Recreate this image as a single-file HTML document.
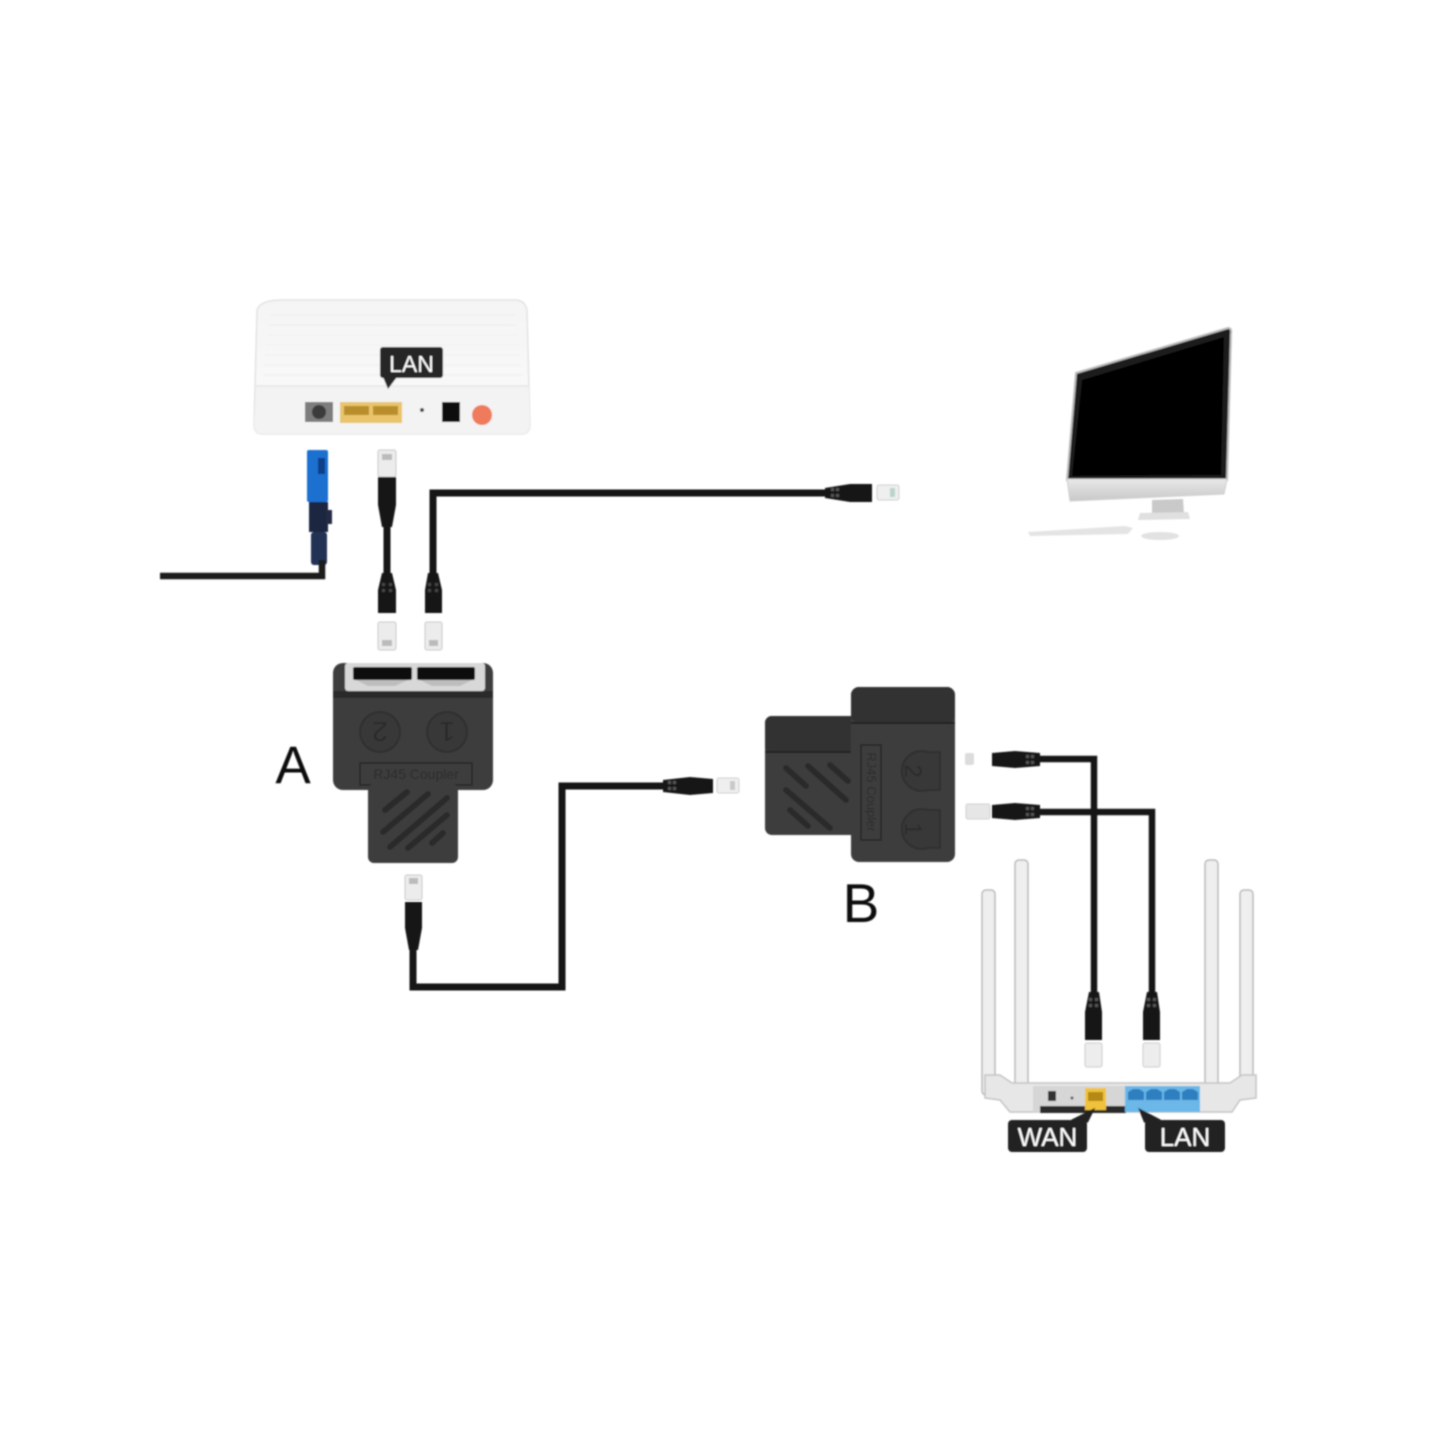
<!DOCTYPE html>
<html><head><meta charset="utf-8"><style>
html,body{margin:0;padding:0;background:#fff;}
svg{display:block;}
text{font-family:"Liberation Sans","DejaVu Sans",sans-serif;}
</style></head><body>
<svg width="1445" height="1445" viewBox="0 0 1445 1445" xmlns="http://www.w3.org/2000/svg">
<defs>
<filter id="sb" x="-5%" y="-5%" width="110%" height="110%"><feGaussianBlur stdDeviation="0.7"/></filter>
<linearGradient id="mtop" x1="0" y1="0" x2="0" y2="1"><stop offset="0" stop-color="#f4f4f4"/><stop offset="1" stop-color="#fbfbfb"/></linearGradient>
<linearGradient id="chin" x1="0" y1="0" x2="0" y2="1"><stop offset="0" stop-color="#e8e8e8"/><stop offset="1" stop-color="#c8c8c8"/></linearGradient>
</defs>
<rect width="1445" height="1445" fill="#fff"/>
<g filter="url(#sb)">

<!-- ===== MODEM ===== -->
<path d="M282,300 L515,300 Q525,300 527,310 L530,425 Q530,434 521,434 L263,434 Q254,434 254,425 L257,310 Q260,300 282,300Z" fill="url(#mtop)" stroke="#e3e3e3" stroke-width="1.5"/>
<path d="M256,386 L529,386 L530,425 Q530,434 521,434 L263,434 Q254,434 254,425Z" fill="#f3f3f3"/>
<line x1="256" y1="386" x2="529" y2="386" stroke="#e6e6e6" stroke-width="1.5"/>
<g stroke="#efefef" stroke-width="1">
<line x1="270" y1="315" x2="515" y2="315"/><line x1="268" y1="325" x2="517" y2="325"/><line x1="267" y1="335" x2="518" y2="335"/>
<line x1="266" y1="345" x2="519" y2="345"/><line x1="265" y1="355" x2="520" y2="355"/><line x1="264" y1="365" x2="521" y2="365"/><line x1="263" y1="375" x2="522" y2="375"/>
</g>
<!-- LAN label -->
<rect x="380" y="347" width="63" height="31" rx="3" fill="#262626"/>
<path d="M383,377 L397,377 L388,389Z" fill="#262626"/>
<text x="411.5" y="372" font-size="23" fill="#fff" text-anchor="middle">LAN</text>
<!-- ports -->
<rect x="305" y="402" width="28" height="20" fill="#7d7d7d"/>
<circle cx="319" cy="412" r="7" fill="#3b3b3b"/>
<rect x="340" y="402" width="62" height="21" fill="#e9c46a"/>
<rect x="344" y="406" width="25" height="9" fill="#b98e2c"/>
<rect x="373" y="406" width="25" height="9" fill="#b98e2c"/>
<circle cx="422" cy="410" r="2" fill="#444"/>
<rect x="442" y="402" width="18" height="20" fill="#111"/>
<circle cx="482" cy="415" r="10" fill="#f07a5c"/>

<!-- ===== FIBER CONNECTOR ===== -->
<rect x="307" y="450" width="21" height="52" rx="2" fill="#1f6fd0"/>
<rect x="318" y="458" width="7" height="16" fill="#0d3f86"/>
<rect x="309" y="502" width="19" height="30" fill="#1c2540"/>
<rect x="326" y="510" width="6" height="14" fill="#222a44"/>
<rect x="311" y="532" width="16" height="33" rx="3" fill="#243055"/>
<path d="M160,576 L322,576 L322,560" fill="none" stroke="#1a1a1a" stroke-width="6.5"/>

<!-- ===== CABLE 1 (modem LAN to A) ===== -->
<rect x="378" y="450" width="18" height="27" rx="2" fill="#ececec" stroke="#c9c9c9"/>
<rect x="382" y="454" width="10" height="6" fill="#bbb"/>
<path d="M378,477 L396,477 L396,505 L392,527 L382,527 L378,505Z" fill="#151515"/>
<line x1="387" y1="525" x2="387" y2="576" stroke="#151515" stroke-width="7"/>
<path d="M382,573 L392,573 L396,590 L396,613 L378,613 L378,590Z" fill="#151515"/>
<g fill="#444"><rect x="382" y="583" width="3" height="3"/><rect x="389" y="583" width="3" height="3"/><rect x="382" y="589" width="3" height="3"/><rect x="389" y="589" width="3" height="3"/></g>
<rect x="378" y="622" width="18" height="28" rx="2" fill="#ececec" stroke="#c9c9c9"/>
<rect x="382" y="640" width="10" height="6" fill="#bbb"/>

<!-- ===== CABLE 2 (A port 1 to PC) ===== -->
<path d="M433,576 L433,493 L828,493" fill="none" stroke="#151515" stroke-width="7"/>
<path d="M428,573 L438,573 L442,590 L442,613 L425,613 L425,590Z" fill="#151515"/>
<g fill="#444"><rect x="428" y="583" width="3" height="3"/><rect x="435" y="583" width="3" height="3"/><rect x="428" y="589" width="3" height="3"/><rect x="435" y="589" width="3" height="3"/></g>
<rect x="425" y="622" width="17" height="28" rx="2" fill="#ececec" stroke="#c9c9c9"/>
<rect x="429" y="640" width="9" height="6" fill="#bbb"/>
<path d="M825,488 L850,484 L872,484 L872,502 L850,502 L825,498Z" fill="#151515"/>
<g fill="#555"><rect x="831" y="488" width="3" height="3"/><rect x="836" y="488" width="3" height="3"/><rect x="831" y="494" width="3" height="3"/><rect x="836" y="494" width="3" height="3"/></g>
<rect x="877" y="485" width="22" height="15" rx="2" fill="#efefef" stroke="#d0d0d0"/>
<rect x="890" y="488" width="5" height="9" fill="#b7d6c9"/>

<!-- ===== MONITOR ===== -->
<path d="M1076,373 L1228,328 Q1232,328 1231,334 L1227,480 L1067,480Z" fill="#1a1a1a" stroke="#bdbdbd" stroke-width="2"/>
<path d="M1082,380 L1224,337 L1221,475 L1072,476Z" fill="#050505"/>
<path d="M1067,479 L1227,479 L1224,494 L1070,501Z" fill="url(#chin)" stroke="#cfcfcf"/>
<path d="M1152,500 L1183,499 L1184,514 L1152,515Z" fill="#c9c9c9"/>
<path d="M1140,513 L1188,512 L1190,519 L1138,520Z" fill="#e0e0e0"/>
<path d="M1028,532 L1125,526 L1133,528 L1128,534 L1030,536Z" fill="#e4e4e4"/>
<ellipse cx="1160" cy="536" rx="19" ry="4" fill="#e2e2e2"/>

<!-- ===== COUPLER A ===== -->
<rect x="333" y="663" width="160" height="127" rx="10" fill="#3d3d3d"/>
<rect x="345" y="663" width="140" height="28" rx="3" fill="#d8d8d8"/>
<rect x="353" y="667" width="59" height="13" rx="2" fill="#111"/>
<rect x="417" y="667" width="58" height="13" rx="2" fill="#111"/>
<path d="M356,680 L368,686 L395,686 L408,680Z" fill="#bdbdbd"/>
<path d="M420,680 L432,686 L460,686 L472,680Z" fill="#bdbdbd"/>
<rect x="333" y="691" width="160" height="7" fill="#2c2c2c"/>
<circle cx="380" cy="732" r="20" fill="#373737" stroke="#2f2f2f" stroke-width="2"/>
<circle cx="447" cy="732" r="20" fill="#373737" stroke="#2f2f2f" stroke-width="2"/>
<text x="380" y="742" font-size="28" fill="#2a2a2a" text-anchor="middle" transform="rotate(180 380 732)">2</text>
<text x="447" y="742" font-size="28" fill="#2a2a2a" text-anchor="middle" transform="rotate(180 447 732)">1</text>
<rect x="360" y="763" width="112" height="22" fill="none" stroke="#2c2c2c" stroke-width="2"/>
<text x="416" y="779" font-size="14" fill="#2a2a2a" text-anchor="middle">RJ45 Coupler</text>
<rect x="368" y="784" width="90" height="79" rx="6" fill="#3d3d3d"/>
<g stroke="#2a2a2a" stroke-width="6" stroke-linecap="round">
<line x1="385" y1="810" x2="407" y2="792"/>
<line x1="383" y1="832" x2="428" y2="794"/>
<line x1="390" y1="847" x2="447" y2="798"/>
<line x1="408" y1="848" x2="447" y2="815"/>
<line x1="432" y1="843" x2="443" y2="833"/>
</g>
<text x="293" y="783" font-size="53" fill="#111" text-anchor="middle">A</text>

<!-- ===== CABLE 3 (A out to B) ===== -->
<rect x="405" y="875" width="17" height="25" rx="2" fill="#ececec" stroke="#c9c9c9"/>
<rect x="409" y="878" width="9" height="6" fill="#bbb"/>
<path d="M405,902 L422,902 L422,928 L418,950 L409,950 L405,928Z" fill="#151515"/>
<path d="M413,948 L413,987 L562,987 L562,786 L665,786" fill="none" stroke="#151515" stroke-width="7"/>
<path d="M663,780 L690,777 L713,779 L713,793 L690,795 L663,792Z" fill="#151515"/>
<g fill="#555"><rect x="668" y="781" width="3" height="3"/><rect x="673" y="781" width="3" height="3"/><rect x="668" y="787" width="3" height="3"/><rect x="673" y="787" width="3" height="3"/></g>
<rect x="717" y="778" width="22" height="15" rx="2" fill="#efefef" stroke="#d0d0d0"/>
<rect x="730" y="781" width="5" height="9" fill="#c9c9c9"/>

<!-- ===== COUPLER B ===== -->
<rect x="765" y="716" width="100" height="119" rx="7" fill="#3d3d3d"/>
<rect x="765" y="716" width="100" height="36" rx="7" fill="#303030"/>
<line x1="765" y1="752" x2="855" y2="752" stroke="#222" stroke-width="2"/>
<rect x="851" y="687" width="104" height="175" rx="8" fill="#3d3d3d"/>
<rect x="851" y="687" width="104" height="36" rx="8" fill="#323232"/>
<line x1="851" y1="723" x2="955" y2="723" stroke="#222" stroke-width="2"/>
<rect x="861" y="745" width="20" height="95" fill="none" stroke="#2c2c2c" stroke-width="2"/>
<text x="871" y="792" font-size="13" fill="#2a2a2a" text-anchor="middle" transform="rotate(90 871 792)" dy="4">RJ45 Coupler</text>
<path d="M928,752 A20,20 0 1,0 928,790 L940,790 L940,752Z" fill="#373737" stroke="#2e2e2e" stroke-width="2"/>
<path d="M928,810 A20,20 0 1,0 928,848 L940,848 L940,810Z" fill="#373737" stroke="#2e2e2e" stroke-width="2"/>
<text x="913" y="779" font-size="24" fill="#2a2a2a" text-anchor="middle" transform="rotate(90 913 771)">2</text>
<text x="913" y="837" font-size="24" fill="#2a2a2a" text-anchor="middle" transform="rotate(90 913 829)">1</text>
<g stroke="#2a2a2a" stroke-width="6" stroke-linecap="round">
<line x1="786" y1="768" x2="806" y2="786"/>
<line x1="808" y1="766" x2="846" y2="800"/>
<line x1="830" y1="765" x2="848" y2="781"/>
<line x1="786" y1="790" x2="830" y2="828"/>
<line x1="790" y1="810" x2="808" y2="826"/>
</g>
<text x="861" y="922" font-size="55" fill="#111" text-anchor="middle">B</text>

<!-- ===== CABLES B to router ===== -->
<path d="M1038,759 L1094,759 L1094,995" fill="none" stroke="#151515" stroke-width="6.5"/>
<path d="M1038,812 L1152,812 L1152,995" fill="none" stroke="#151515" stroke-width="6.5"/>
<path d="M1040,753 L1015,751 L992,753 L992,766 L1015,768 L1040,766Z" fill="#151515"/>
<g fill="#555"><rect x="1026" y="755" width="3" height="3"/><rect x="1031" y="755" width="3" height="3"/><rect x="1026" y="761" width="3" height="3"/><rect x="1031" y="761" width="3" height="3"/></g>
<rect x="965" y="753" width="9" height="12" rx="2" fill="#dcdcdc"/>
<path d="M1040,805 L1015,803 L992,805 L992,818 L1015,820 L1040,818Z" fill="#151515"/>
<g fill="#555"><rect x="1026" y="807" width="3" height="3"/><rect x="1031" y="807" width="3" height="3"/><rect x="1026" y="813" width="3" height="3"/><rect x="1031" y="813" width="3" height="3"/></g>
<rect x="966" y="804" width="24" height="15" rx="2" fill="#e6e6e6" stroke="#d0d0d0"/>

<!-- router plugs -->
<path d="M1089,992 L1099,992 L1102,1012 L1102,1040 L1085,1040 L1085,1012Z" fill="#151515"/>
<g fill="#555"><rect x="1089" y="998" width="3" height="3"/><rect x="1095" y="998" width="3" height="3"/><rect x="1089" y="1004" width="3" height="3"/><rect x="1095" y="1004" width="3" height="3"/></g>
<rect x="1085" y="1043" width="17" height="24" rx="2" fill="#ededed" stroke="#cccccc"/>
<path d="M1147,992 L1157,992 L1160,1012 L1160,1040 L1143,1040 L1143,1012Z" fill="#151515"/>
<g fill="#555"><rect x="1147" y="998" width="3" height="3"/><rect x="1153" y="998" width="3" height="3"/><rect x="1147" y="1004" width="3" height="3"/><rect x="1153" y="1004" width="3" height="3"/></g>
<rect x="1143" y="1043" width="17" height="24" rx="2" fill="#ededed" stroke="#cccccc"/>

<!-- ===== ROUTER ===== -->
<g fill="#efefef" stroke="#b9b9b9" stroke-width="1.5">
<rect x="982" y="890" width="13" height="205" rx="4"/>
<rect x="1015" y="860" width="13" height="240" rx="4"/>
<rect x="1205" y="860" width="13" height="240" rx="4"/>
<rect x="1240" y="890" width="13" height="205" rx="4"/>
</g>
<path d="M985,1075 L1000,1075 L1012,1083 L1230,1083 L1242,1075 L1256,1075 L1256,1098 L1240,1100 L1232,1112 L1010,1112 L1000,1100 L985,1098Z" fill="#e7e7e7" stroke="#c4c4c4" stroke-width="1.5"/>
<rect x="1033" y="1086" width="167" height="26" fill="#d6d6d6"/>
<rect x="1040" y="1106" width="86" height="7" fill="#2b2b2b"/>
<rect x="1048" y="1091" width="8" height="10" fill="#333"/>
<circle cx="1072" cy="1098" r="1.5" fill="#555"/>
<rect x="1085" y="1088" width="21" height="22" fill="#f0c23a"/>
<rect x="1088" y="1092" width="15" height="9" fill="#b58916"/>
<rect x="1125" y="1086" width="75" height="26" fill="#6ab7e8"/>
<g fill="#2f7fbf">
<path d="M1128,1092 L1133,1089 L1139,1089 L1144,1092 L1144,1100 L1128,1100Z"/>
<path d="M1146,1092 L1151,1089 L1157,1089 L1162,1092 L1162,1100 L1146,1100Z"/>
<path d="M1164,1092 L1169,1089 L1175,1089 L1180,1092 L1180,1100 L1164,1100Z"/>
<path d="M1182,1092 L1187,1089 L1193,1089 L1198,1092 L1198,1100 L1182,1100Z"/>
</g>
<!-- WAN / LAN labels -->
<rect x="1008" y="1120" width="79" height="32" rx="4" fill="#242424"/>
<path d="M1072,1121 L1087,1121 L1092,1111Z" fill="#242424" stroke="#242424" stroke-width="3"/>
<text x="1047.5" y="1146" font-size="26" fill="#fff" text-anchor="middle">WAN</text>
<rect x="1145" y="1120" width="80" height="32" rx="4" fill="#242424"/>
<path d="M1145,1121 L1160,1121 L1141,1111Z" fill="#242424" stroke="#242424" stroke-width="3"/>
<text x="1185" y="1146" font-size="26" fill="#fff" text-anchor="middle">LAN</text>
</g>
</svg>
</body></html>
